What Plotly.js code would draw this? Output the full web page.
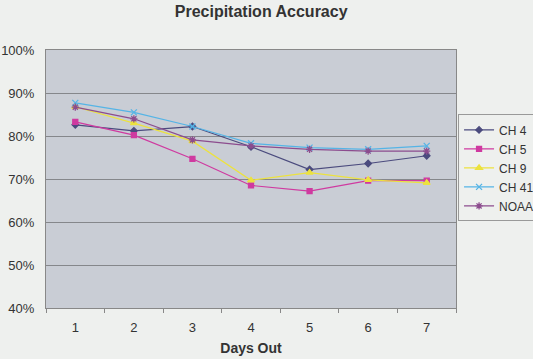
<!DOCTYPE html>
<html>
<head>
<meta charset="utf-8">
<script src="https://cdn.plot.ly/plotly-3.0.1.min.js"></script>
<style>
html,body{margin:0;padding:0;background:#eef0ee;}
#chart{width:533px;height:359px;outline:1px solid #b8bab8;outline-offset:-1px;}
</style>
</head>
<body>
<div id="chart"></div>
<script>
var days = ['1','2','3','4','5','6','7'];
var seriesNames = ['CH 4','CH 5','CH 9','CH 41','NOAA'];
var ch4  = [0.826, 0.812, 0.822, 0.775, 0.722, 0.736, 0.754];
var ch5  = [0.833, 0.802, 0.747, 0.685, 0.672, 0.696, 0.696];
var ch9  = [0.868, 0.830, 0.788, 0.697, 0.715, 0.698, 0.691];
var ch41 = [0.877, 0.855, 0.822, 0.783, 0.773, 0.769, 0.777];
var noaa = [0.867, 0.840, 0.791, 0.777, 0.769, 0.765, 0.765];

var values = [ch4, ch5, ch9, ch41, noaa];
var colors = ['#4b4b7e', '#cf3aa0', '#ece23e', '#55b4e6', '#8c4c8e'];
var symbols = ['diamond', 'square', 'triangle-up', 'x-thin-open', 'asterisk-open'];
var sizes = [5, 5, 6, 6, 6];

var traces = values.map(function(v, i){
  return {
    x: days, y: v, name: seriesNames[i], type: 'scatter', mode: 'lines+markers',
    line: {color: colors[i], width: 1.2},
    marker: {color: colors[i], symbol: symbols[i], size: sizes[i], line: {color: colors[i], width: 1.3}}
  };
});

var layout = {
  width: 533, height: 359,
  margin: {l: 46, r: 77, t: 50, b: 51, autoexpand: false},
  paper_bgcolor: '#eef0ee',
  plot_bgcolor: '#c9cdd5',
  font: {family: 'Liberation Sans, Arial, sans-serif', color: '#333', size: 13},
  title: {text: '<b>Precipitation Accuracy</b>', x: 0.49, xanchor: 'center', y: 0.968, yanchor: 'middle',
          font: {size: 16, color: '#333'}},
  xaxis: {
    type: 'category', range: [-0.5, 6.5],
    showgrid: false, zeroline: false,
    showline: true, linecolor: '#888', linewidth: 1, mirror: true,
    ticks: 'outside', tickson: 'boundaries', ticklen: 4, tickcolor: '#888',
    ticklabelstandoff: 7,
    tickfont: {size: 13, color: '#333'},
    title: {text: '<b>Days Out</b>', font: {size: 14, color: '#333'}, standoff: 9}
  },
  yaxis: {
    range: [0.4, 1.0], dtick: 0.1, tickformat: '.0%',
    showgrid: true, gridcolor: '#85878b', gridwidth: 1, zeroline: false,
    showline: true, linecolor: '#888', linewidth: 1, mirror: true,
    ticks: 'outside', ticklen: 8, tickcolor: 'rgba(0,0,0,0)', tickfont: {size: 13, color: '#333'}
  },
  showlegend: true,
  legend: {
    x: 1.005, xanchor: 'left', y: 0.543, yanchor: 'middle',
    bgcolor: '#eef0ee', bordercolor: '#999', borderwidth: 1,
    font: {size: 12, color: '#333'}, itemwidth: 30, tracegroupgap: 0
  }
};

Plotly.newPlot('chart', traces, layout, {displayModeBar: false, staticPlot: true});
</script>
</body>
</html>
